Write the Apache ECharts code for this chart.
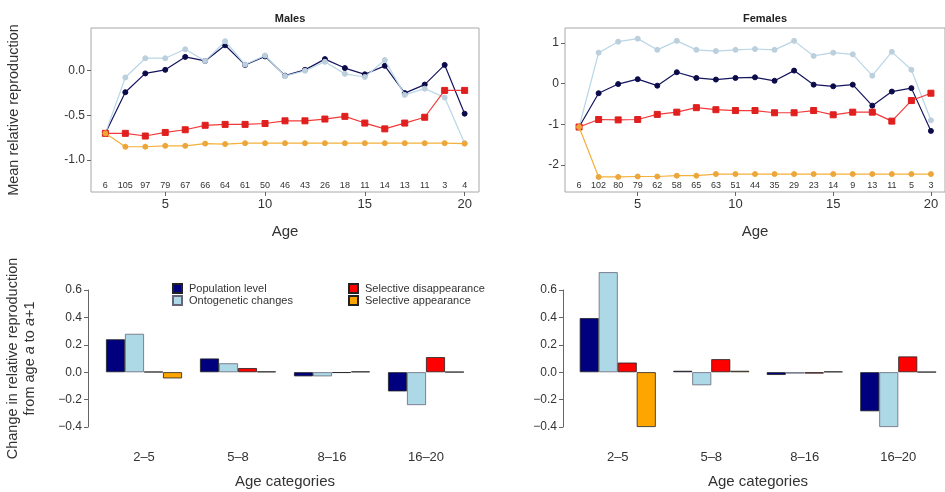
<!DOCTYPE html>
<html><head><meta charset="utf-8">
<script src="https://cdn.jsdelivr.net/npm/echarts@6/dist/echarts.min.js"></script>
<style>html,body{margin:0;padding:0;background:#fff}#c{width:945px;height:492px}</style>
</head><body><div id="c"></div>
<script>
const ages = [2,3,4,5,6,7,8,9,10,11,12,13,14,15,16,17,18,19,20];
const maleN = [6,105,97,79,67,66,64,61,50,46,43,26,18,11,14,13,11,3,4];
const femaleN = [6,102,80,79,62,58,65,63,51,44,35,29,23,14,9,13,11,5,3];
const ageTicks = [5,10,15,20];
const maleTicks = [-1,-0.5,0];
const femaleTicks = [-2,-1,0,1];

const maleNavy = [-0.70,-0.24,-0.03,0.01,0.155,0.11,0.285,0.065,0.16,-0.055,0.01,0.13,0.03,-0.04,0.055,-0.25,-0.155,0.065,-0.48];
const maleLight = [-0.70,-0.075,0.14,0.14,0.24,0.11,0.33,0.07,0.17,-0.06,0.0,0.10,-0.035,-0.07,0.12,-0.27,-0.20,-0.30,-0.81];
const maleRed = [-0.70,-0.70,-0.73,-0.69,-0.66,-0.61,-0.60,-0.60,-0.59,-0.56,-0.56,-0.54,-0.51,-0.585,-0.65,-0.585,-0.52,-0.22,-0.22];
const maleOrange = [-0.70,-0.85,-0.85,-0.84,-0.84,-0.815,-0.82,-0.81,-0.81,-0.81,-0.81,-0.81,-0.81,-0.81,-0.81,-0.81,-0.81,-0.81,-0.815];

const femaleNavy = [-1.065,-0.235,-0.01,0.11,-0.05,0.28,0.14,0.10,0.14,0.155,0.07,0.32,-0.025,-0.065,-0.025,-0.54,-0.195,-0.11,-1.16];
const femaleLight = [-1.065,0.76,1.03,1.105,0.83,1.05,0.83,0.80,0.83,0.85,0.83,1.05,0.68,0.76,0.72,0.195,0.78,0.34,-0.9];
const femaleRed = [-1.065,-0.88,-0.89,-0.88,-0.755,-0.70,-0.59,-0.64,-0.66,-0.66,-0.715,-0.715,-0.66,-0.765,-0.70,-0.70,-0.92,-0.415,-0.235];
const femaleOrange = [-1.065,-2.29,-2.29,-2.28,-2.28,-2.26,-2.26,-2.22,-2.22,-2.22,-2.22,-2.22,-2.22,-2.22,-2.22,-2.22,-2.22,-2.22,-2.22];

const categories = ['2\u20135','5\u20138','8\u201316','16\u201320'];
const malePop = [0.24,0.10,-0.03,-0.14];
const maleOnto = [0.28,0.065,-0.03,-0.24];
const maleDisap = [0.003,0.03,-0.005,0.11];
const maleAppear = [-0.045,0.005,0.005,0.002];
const femalePop = [0.395,0.01,-0.02,-0.285];
const femaleOnto = [0.73,-0.095,-0.01,-0.40];
const femaleDisap = [0.07,0.095,-0.01,0.115];
const femaleAppear = [-0.40,0.01,0.005,0.002];

const names = ['Population level','Ontogenetic changes','Selective disappearance','Selective appearance'];
const colors = ['#00007f','#add8e6','#ff0000','#ffa500'];
const lineCols = ['#14145f','#b9d6e6','#f23a3a','#f5b03a'];
const markCols = ['#0b0b4a','#bccfdc','#e01f1f','#eda63a'];

const FONT = 'Liberation Sans, Arial, sans-serif';
const TXT = '#333';

const chart = echarts.init(document.getElementById('c'), null, {renderer:'canvas'});

function topX(grid, nArr) {
  return [{
    type:'value', gridIndex:grid, min:1.28, max:20.72, position:'bottom',
    axisLine:{show:false, onZero:false}, splitLine:{show:false},
    axisTick:{show:true, customValues:ageTicks, length:4, lineStyle:{color:'#666'}},
    axisLabel:{customValues:ageTicks, fontFamily:FONT, fontSize:13, color:TXT, margin:6},
    name:'Age', nameLocation:'middle', nameGap:32,
    nameTextStyle:{fontFamily:FONT, fontSize:15, color:TXT}
  },{
    type:'value', gridIndex:grid, min:1.28, max:20.72, position:'bottom',
    axisLine:{show:false, onZero:false}, splitLine:{show:false}, axisTick:{show:false},
    axisLabel:{inside:true, customValues:ages, margin:2, fontFamily:FONT, fontSize:9, color:TXT,
      formatter: v => String(nArr[ages.indexOf(Math.round(v))])}
  }];
}
function topY(grid, mn, mx, ticks, dec, name) {
  return {
    type:'value', gridIndex:grid, min:mn, max:mx,
    axisLine:{show:false, onZero:false}, splitLine:{show:false},
    axisTick:{show:true, customValues:ticks, length:4, lineStyle:{color:'#666'}},
    axisLabel:{customValues:ticks, fontFamily:FONT, fontSize:12, color:TXT, margin:6,
      formatter: v => (v<0?'-':'') + Math.abs(v).toFixed(dec)},
    name:name, nameLocation:'middle', nameGap:70,
    nameTextStyle:{fontFamily:FONT, fontSize:14.5, color:TXT}
  };
}
function lineSeries(xi, yi, arrs) {
  const order = [1,0,2,3];
  return order.map(k => ({
    type:'line', name:names[k], xAxisIndex:xi, yAxisIndex:yi,
    data: ages.map((a,i) => [a, arrs[k][i]]),
    symbol: k===2 ? 'rect' : 'circle', symbolSize: k===2 ? 6 : 5,
    lineStyle:{color:lineCols[k], width:1.2},
    itemStyle:{color:markCols[k], borderColor:markCols[k]},
    emphasis:{disabled:true}, silent:true, z: 3+k, animation:false
  }));
}
function barSeries(xi, yi, arrs) {
  return arrs.map((arr,k) => ({
    type:'bar', name:names[k], xAxisIndex:xi, yAxisIndex:yi, data:arr,
    barWidth:19, barGap:'0%', clip:false,
    itemStyle:{color:colors[k], borderColor: k===1 ? '#667' : '#222', borderWidth:0.8},
    emphasis:{disabled:true}, silent:true, animation:false
  }));
}
function barX(grid) {
  return {
    type:'category', gridIndex:grid, data:categories,
    axisLine:{show:false, onZero:false}, axisTick:{show:false},
    axisLabel:{fontFamily:FONT, fontSize:13, color:TXT, margin:24},
    name:'Age categories', nameLocation:'middle', nameGap:47,
    nameTextStyle:{fontFamily:FONT, fontSize:15, color:TXT}
  };
}
function barY(grid, off, withName) {
  const o = {
    type:'value', gridIndex:grid, min:-0.4, max:0.6, interval:0.2, offset:off,
    axisLine:{show:true, onZero:false, lineStyle:{color:'#666'}}, splitLine:{show:false},
    axisTick:{show:true, length:4, lineStyle:{color:'#666'}},
    axisLabel:{fontFamily:FONT, fontSize:12, color:TXT, margin:6,
      formatter: v => { const r = Math.round(v*10)/10; return (r<0?'\u2212':'') + Math.abs(r).toFixed(1); }}
  };
  if (withName) {
    o.name = 'Change in relative reproduction\nfrom age {i|a} to {i|a}+1';
    o.nameLocation = 'middle'; o.nameGap = 50;
    o.nameTextStyle = {fontFamily:FONT, fontSize:14.5, color:TXT, lineHeight:17,
      rich:{i:{fontStyle:'italic', fontFamily:FONT, fontSize:14.5, color:TXT}}};
  }
  return o;
}

const option = {
  backgroundColor:'#fff',
  animation:false,
  title:[
    {text:'Males', left:285, top:8, textAlign:'center', textStyle:{fontFamily:FONT, fontSize:11, fontWeight:'bold', color:'#222'}},
    {text:'Females', left:760, top:8, textAlign:'center', textStyle:{fontFamily:FONT, fontSize:11, fontWeight:'bold', color:'#222'}}
  ],
  legend:[
    {data:names.slice(0,2), orient:'vertical', left:167, top:278, icon:'rect', itemWidth:9, itemHeight:9, itemGap:1,
     textStyle:{fontFamily:FONT, fontSize:11, color:TXT, padding:[0,0,0,2]}, selectedMode:false},
    {data:names.slice(2,4), orient:'vertical', left:343, top:278, icon:'rect', itemWidth:9, itemHeight:9, itemGap:1,
     textStyle:{fontFamily:FONT, fontSize:11, color:TXT, padding:[0,0,0,2]}, selectedMode:false}
  ],
  grid:[
    {left:91, top:28, width:388, height:164, show:true, borderColor:'#a8a8a8', borderWidth:1, containLabel:false},
    {left:565, top:28, width:389, height:164, show:true, borderColor:'#a8a8a8', borderWidth:1, containLabel:false},
    {left:97, top:290, width:376, height:137, containLabel:false},
    {left:571, top:290, width:376, height:137, containLabel:false}
  ],
  xAxis:[].concat(topX(0, maleN), topX(1, femaleN), [barX(2), barX(3)]),
  yAxis:[
    topY(0, -1.356, 0.478, maleTicks, 1, 'Mean relative reproduction'),
    topY(1, -2.66, 1.366, femaleTicks, 0, ''),
    barY(2, 9, true),
    barY(3, 8, false)
  ],
  series:[].concat(
    barSeries(4, 2, [malePop, maleOnto, maleDisap, maleAppear]),
    barSeries(5, 3, [femalePop, femaleOnto, femaleDisap, femaleAppear]),
    lineSeries(0, 0, [maleNavy, maleLight, maleRed, maleOrange]),
    lineSeries(2, 1, [femaleNavy, femaleLight, femaleRed, femaleOrange])
  )
};
chart.setOption(option);
</script></body></html>
